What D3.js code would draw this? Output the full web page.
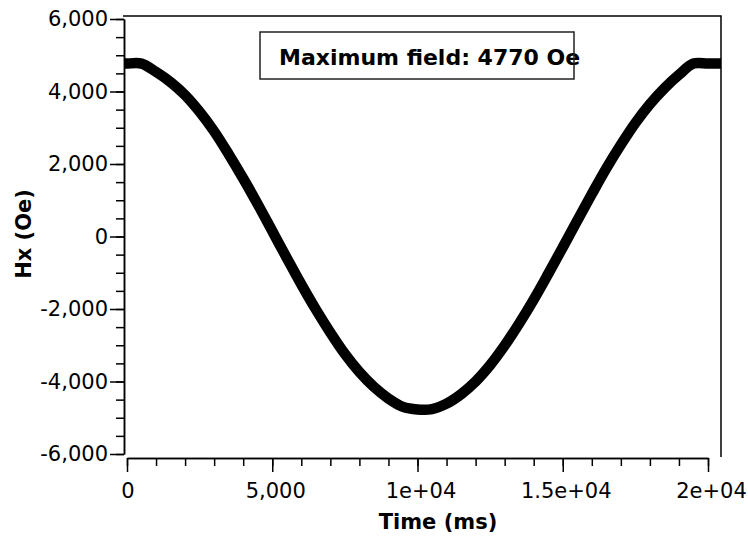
<!DOCTYPE html>
<html><head><meta charset="utf-8">
<script src="https://cdn.jsdelivr.net/npm/d3@7"></script>
<style>
body{margin:0;background:#fff}
svg{display:block}
text{font-family:'DejaVu Sans',Verdana,sans-serif}
</style>
</head><body>
<svg id="chart" width="748" height="536"></svg>
<script>
// Data
const timeMs = [-100, 0, 500, 1000, 1500, 2000, 2500, 3000, 3500, 4000, 4500, 5000, 5500, 6000, 6500, 7000, 7500, 8000, 8500, 9000, 9500, 10000, 10500, 11000, 11500, 12000, 12500, 13000, 13500, 14000, 14500, 15000, 15500, 16000, 16500, 17000, 17500, 18000, 18500, 19000, 19500, 20000, 20450];
const fieldOe = [4770, 4770, 4770, 4540, 4260, 3900, 3440, 2900, 2270, 1600, 890, 150, -590, -1320, -2010, -2650, -3240, -3740, -4150, -4470, -4700, -4770, -4760, -4610, -4350, -4000, -3550, -3010, -2400, -1740, -1030, -300, 440, 1170, 1880, 2530, 3130, 3650, 4090, 4460, 4770, 4770, 4770];

const xTickValues = [0, 5000, 10000, 15000, 20000];
const xTickLabels = ["0", "5,000", "1e+04", "1.5e+04", "2e+04"];
const xMinorValues = d3.range(0, 20001, 1000);
const yTickValues = [-6000, -4000, -2000, 0, 2000, 4000, 6000];
const yTickLabels = ["-6,000", "-4,000", "-2,000", "0", "2,000", "4,000", "6,000"];
const yMinorValues = d3.range(-6000, 6001, 500);

const xTitle = "Time (ms)";
const yTitle = "Hx (Oe)";
const annotation = "Maximum field: 4770 Oe";

const svg = d3.select("#chart");
const region = {left: 124, right: 721, top: 16, bottom: 458};
const x = d3.scaleLinear().domain([0, 20000]).range([127, 708]);
const y = d3.scaleLinear().domain([-6000, 6000]).range([454, 19]);

svg.append("rect").attr("width", 748).attr("height", 536).attr("fill", "#fff");

svg.append("clipPath").attr("id", "plotclip")
  .append("rect")
  .attr("x", region.left).attr("y", region.top)
  .attr("width", region.right - region.left)
  .attr("height", region.bottom - region.top);

// curve
const pts = timeMs.map((t, i) => [t, fieldOe[i]]);
svg.append("path")
  .datum(pts)
  .attr("clip-path", "url(#plotclip)")
  .attr("fill", "none")
  .attr("stroke", "#000")
  .attr("stroke-width", 10.5)
  .attr("stroke-linejoin", "round")
  .attr("d", d3.line().curve(d3.curveCatmullRom.alpha(0.5)).x(d => x(d[0])).y(d => y(d[1])));

// frame (top and right)
svg.append("path")
  .attr("fill", "none").attr("stroke", "#000").attr("stroke-width", 1.5)
  .attr("d", `M${region.left - 1},${region.top}H${region.right}V${region.bottom - 1}`);

function styleAxis(g) {
  g.selectAll("path,line").attr("stroke", "#000").attr("stroke-width", 1.5);
  g.selectAll("text").attr("font-size", 21).attr("fill", "#000")
    .attr("font-family", "'DejaVu Sans',Verdana,sans-serif");
}

// y axis
const yMinor = svg.append("g").attr("transform", `translate(${region.left},0)`)
  .call(d3.axisLeft(y).tickValues(yMinorValues).tickSize(8).tickSizeOuter(0).tickFormat(""));
styleAxis(yMinor);
const yMajor = svg.append("g").attr("transform", `translate(${region.left},0)`)
  .call(d3.axisLeft(y).tickValues(yTickValues).tickSize(14).tickSizeOuter(0).tickPadding(2)
    .tickFormat((d, i) => yTickLabels[i]));
styleAxis(yMajor);

// x axis
const xMinor = svg.append("g").attr("transform", `translate(0,${region.bottom})`)
  .call(d3.axisBottom(x).tickValues(xMinorValues).tickSize(8).tickSizeOuter(0).tickFormat(""));
styleAxis(xMinor);
const xMajor = svg.append("g").attr("transform", `translate(0,${region.bottom})`)
  .call(d3.axisBottom(x).tickValues(xTickValues).tickSize(14).tickSizeOuter(0).tickPadding(11)
    .tickFormat((d, i) => xTickLabels[i]));
styleAxis(xMajor);
xMajor.selectAll(".tick text").attr("dx", d => d === 0 ? 0.5 : 3);

// axis titles
svg.append("text").attr("x", 438).attr("y", 529)
  .attr("text-anchor", "middle").attr("font-size", 21).attr("font-weight", "bold")
  .text(xTitle);
svg.append("text").attr("transform", "translate(31,234) rotate(-90)")
  .attr("text-anchor", "middle").attr("font-size", 21).attr("font-weight", "bold")
  .text(yTitle);

// annotation box
svg.append("rect").attr("x", 260).attr("y", 32).attr("width", 314).attr("height", 47)
  .attr("fill", "#fff");
svg.append("text").attr("x", 279).attr("y", 65)
  .attr("font-size", 22).attr("font-weight", "bold").text(annotation);
svg.append("rect").attr("x", 260).attr("y", 32).attr("width", 314).attr("height", 47)
  .attr("fill", "none").attr("stroke", "#222").attr("stroke-width", 1.5);
</script>
</body></html>
